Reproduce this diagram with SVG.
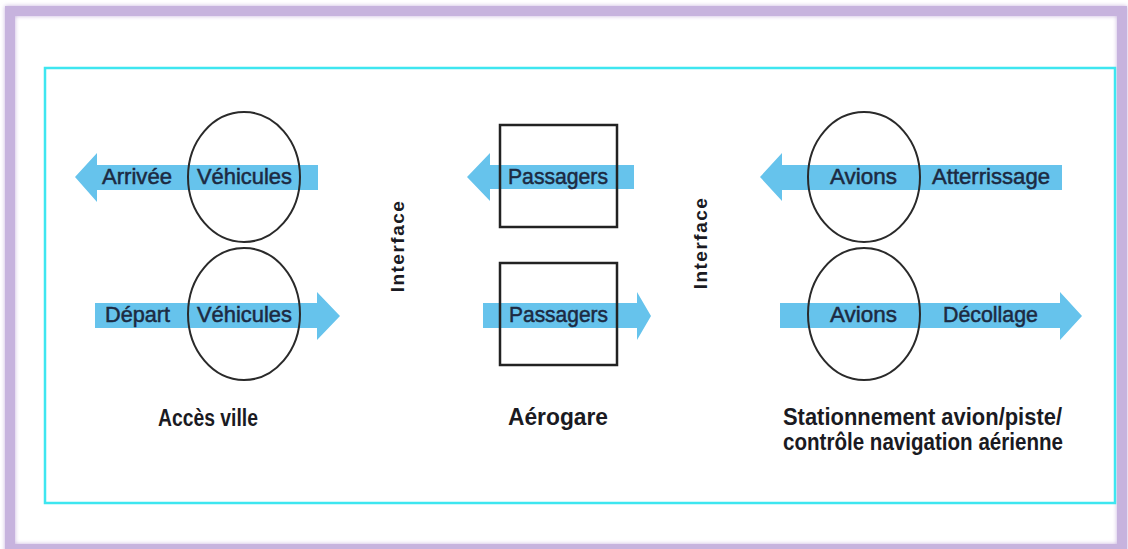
<svg xmlns="http://www.w3.org/2000/svg" width="1128" height="549" viewBox="0 0 1128 549">
  <defs>
    <filter id="glow" x="-5%" y="-5%" width="110%" height="110%">
      <feGaussianBlur stdDeviation="2"/>
    </filter>
    <style>
      .frame { fill: none; stroke: #c7b3de; stroke-width: 10; }
      .panel { fill: #ffffff; stroke: #3ee6f0; stroke-width: 2.5; }
      .flow { fill: #66c3ec; }
      .ell { fill: none; stroke: #2a2a2a; stroke-width: 2; }
      .box { fill: none; stroke: #222222; stroke-width: 2.5; }
      .lbl { font-family: "Liberation Sans", Arial, sans-serif; font-size: 22px; fill: #1c2a42; stroke: #1c2a42; stroke-width: 0.5; }
      .cap { font-family: "Liberation Sans", Arial, sans-serif; font-size: 23px; font-weight: bold; fill: #1a1a22; }
      .ifc { font-family: "Liberation Sans", Arial, sans-serif; font-size: 19px; font-weight: bold; fill: #1a1a22; letter-spacing: 1.5px; }
    </style>
  </defs>
  <rect x="0" y="0" width="1128" height="549" fill="#ffffff"/>
  <rect x="10" y="11" width="1112" height="538" class="frame" filter="url(#glow)"/>
  <rect x="10" y="11" width="1112" height="538" class="frame" stroke-width="7"/>
  <rect x="45" y="68" width="1070" height="435" class="panel"/>

  <g id="connectors">
    <polygon class="flow" points="75,177 97,153 97,165 318,165 318,190 97,190 97,202"/>
    <polygon class="flow" points="95,303 317,303 317,292 340,316 317,340 317,328 95,328"/>
    <polygon class="flow" points="467,177 490,153 490,165 634,165 634,189 490,189 490,201"/>
    <polygon class="flow" points="483,303 637,303 637,292 651,316 637,340 637,328 483,328"/>
    <polygon class="flow" points="760,177 782,153 782,165 1062,165 1062,190 782,190 782,201"/>
    <polygon class="flow" points="780,303 1060,303 1060,292 1082,316 1060,340 1060,328 780,328"/>
  </g>

  <g id="acces-arrivee">
    <ellipse class="ell" cx="244" cy="177" rx="56" ry="65"/>
    <text class="lbl" x="102" y="184" textLength="70" lengthAdjust="spacingAndGlyphs">Arrivée</text>
    <text class="lbl" x="197" y="184" textLength="95" lengthAdjust="spacingAndGlyphs">Véhicules</text>
  </g>
  <g id="acces-depart">
    <ellipse class="ell" cx="244" cy="314" rx="56" ry="66"/>
    <text class="lbl" x="105" y="322" textLength="65" lengthAdjust="spacingAndGlyphs">Départ</text>
    <text class="lbl" x="197" y="322" textLength="95" lengthAdjust="spacingAndGlyphs">Véhicules</text>
  </g>
  <g id="acces-ville">
    <text class="cap" x="158" y="426" textLength="100" lengthAdjust="spacingAndGlyphs">Accès ville</text>
  </g>

  <g id="interface-1">
    <text class="ifc" transform="translate(404,246) rotate(-90)" text-anchor="middle">Interface</text>
  </g>

  <g id="aerogare-arrivee">
    <rect class="box" x="500" y="125" width="117" height="102"/>
    <text class="lbl" x="508" y="184" textLength="100" lengthAdjust="spacingAndGlyphs">Passagers</text>
  </g>
  <g id="aerogare-depart">
    <rect class="box" x="500" y="263" width="117" height="102"/>
    <text class="lbl" x="509" y="322" textLength="99" lengthAdjust="spacingAndGlyphs">Passagers</text>
  </g>
  <g id="aerogare">
    <text class="cap" x="508" y="425" textLength="100" lengthAdjust="spacingAndGlyphs">Aérogare</text>
  </g>

  <g id="interface-2">
    <text class="ifc" transform="translate(707,243) rotate(-90)" text-anchor="middle">Interface</text>
  </g>

  <g id="avions-atterrissage">
    <ellipse class="ell" cx="864" cy="177" rx="56" ry="65"/>
    <text class="lbl" x="830" y="184" textLength="67" lengthAdjust="spacingAndGlyphs">Avions</text>
    <text class="lbl" x="932" y="184" textLength="118" lengthAdjust="spacingAndGlyphs">Atterrissage</text>
  </g>
  <g id="avions-decollage">
    <ellipse class="ell" cx="864" cy="314" rx="56" ry="66"/>
    <text class="lbl" x="830" y="322" textLength="67" lengthAdjust="spacingAndGlyphs">Avions</text>
    <text class="lbl" x="943" y="322" textLength="95" lengthAdjust="spacingAndGlyphs">Décollage</text>
  </g>
  <g id="stationnement">
    <text class="cap" x="783" y="425" textLength="279" lengthAdjust="spacingAndGlyphs">Stationnement avion/piste/</text>
    <text class="cap" x="783" y="450" textLength="280" lengthAdjust="spacingAndGlyphs">contrôle navigation aérienne</text>
  </g>
</svg>
